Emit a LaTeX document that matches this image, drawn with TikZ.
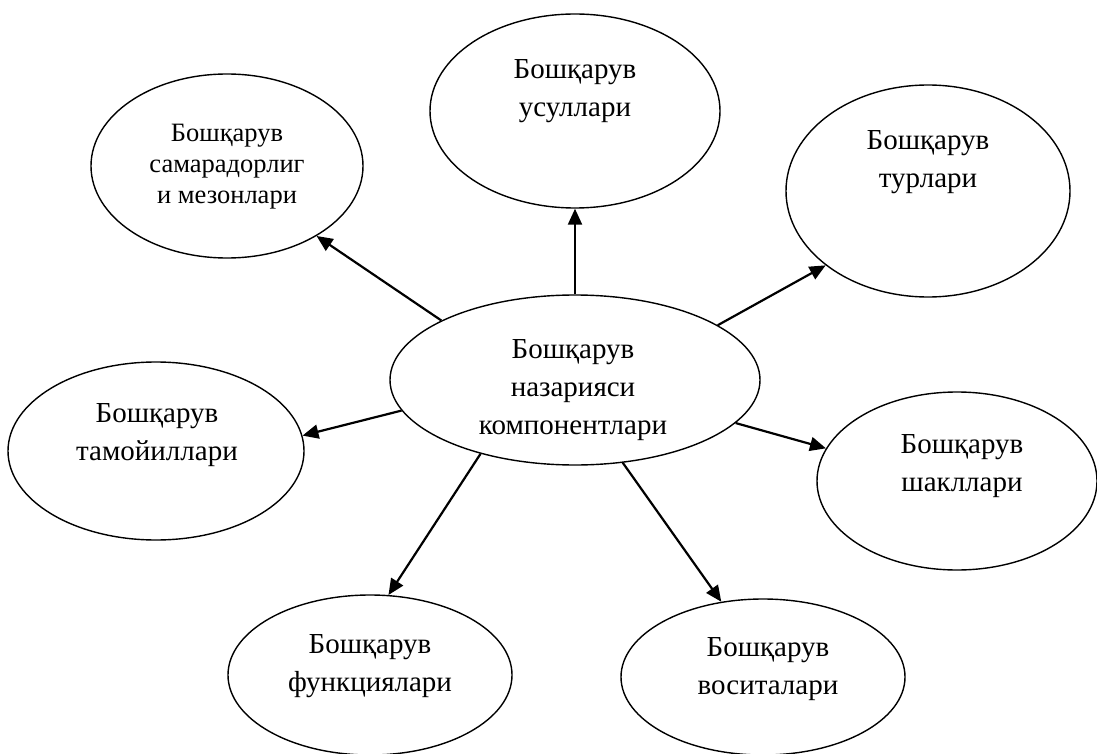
\documentclass[tikz,border=0pt]{standalone}
\usepackage{fontspec}
\setmainfont{Liberation Serif}
\usetikzlibrary{shapes.geometric,arrows.meta}

\begin{document}
\begin{tikzpicture}[x=1pt,y=-1pt,
  bubble/.style={ellipse,draw,line width=1.4pt,inner sep=0pt},
  lbl/.style={align=center,inner sep=0pt,font=\fontsize{29}{38}\selectfont},
  link/.style={line width=2.2pt,-{Triangle[length=16pt,width=14pt]}}]
\useasboundingbox (0,0) rectangle (1097,754);
% ellipses
\node[bubble,minimum width=370pt,minimum height=170pt] (hub) at (575,380) {};
\node[bubble,minimum width=272pt,minimum height=184pt] (eff) at (227,166) {};
\node[bubble,minimum width=290pt,minimum height=194pt] (methods) at (575,111) {};
\node[bubble,minimum width=284pt,minimum height=212pt] (types) at (928,191) {};
\node[bubble,minimum width=296pt,minimum height=178pt] (principles) at (156,451) {};
\node[bubble,minimum width=280pt,minimum height=178pt] (forms) at (957,481) {};
\node[bubble,minimum width=284pt,minimum height=160pt] (functions) at (370,675) {};
\node[bubble,minimum width=284pt,minimum height=156pt] (tools) at (763,677) {};
% texts
\node[lbl] (hubT) at (573,390) {Бошқарув\\назарияси\\компонентлари};
\node[lbl,font=\fontsize{26.5}{31}\selectfont] (effT) at (227,167) {Бошқарув\\самарадорлиг\\и мезонлари};
\node[lbl] (methodsT) at (575,91) {Бошқарув\\усуллари};
\node[lbl] (typesT) at (928,162) {Бошқарув\\турлари};
\node[lbl] (principlesT) at (157,435) {Бошқарув\\тамойиллари};
\node[lbl] (formsT) at (962,466) {Бошқарув\\шакллари};
\node[lbl] (functionsT) at (370,666) {Бошқарув\\функциялари};
\node[lbl] (toolsT) at (768,669) {Бошқарув\\воситалари};
% arrows
\draw[link] (hub.156) -- (eff.-38);
\draw[link] (hub.north) -- (methods.south);
\draw[link] (hub.21) -- (types.216);
\draw[link] (hub.190) -- (principles.6);
\draw[link] (hub.-15) -- (forms.166);
\draw[link] (hub.218) -- (functions.77);
\draw[link] (hub.-60) -- (tools.119);
\end{tikzpicture}
\end{document}
